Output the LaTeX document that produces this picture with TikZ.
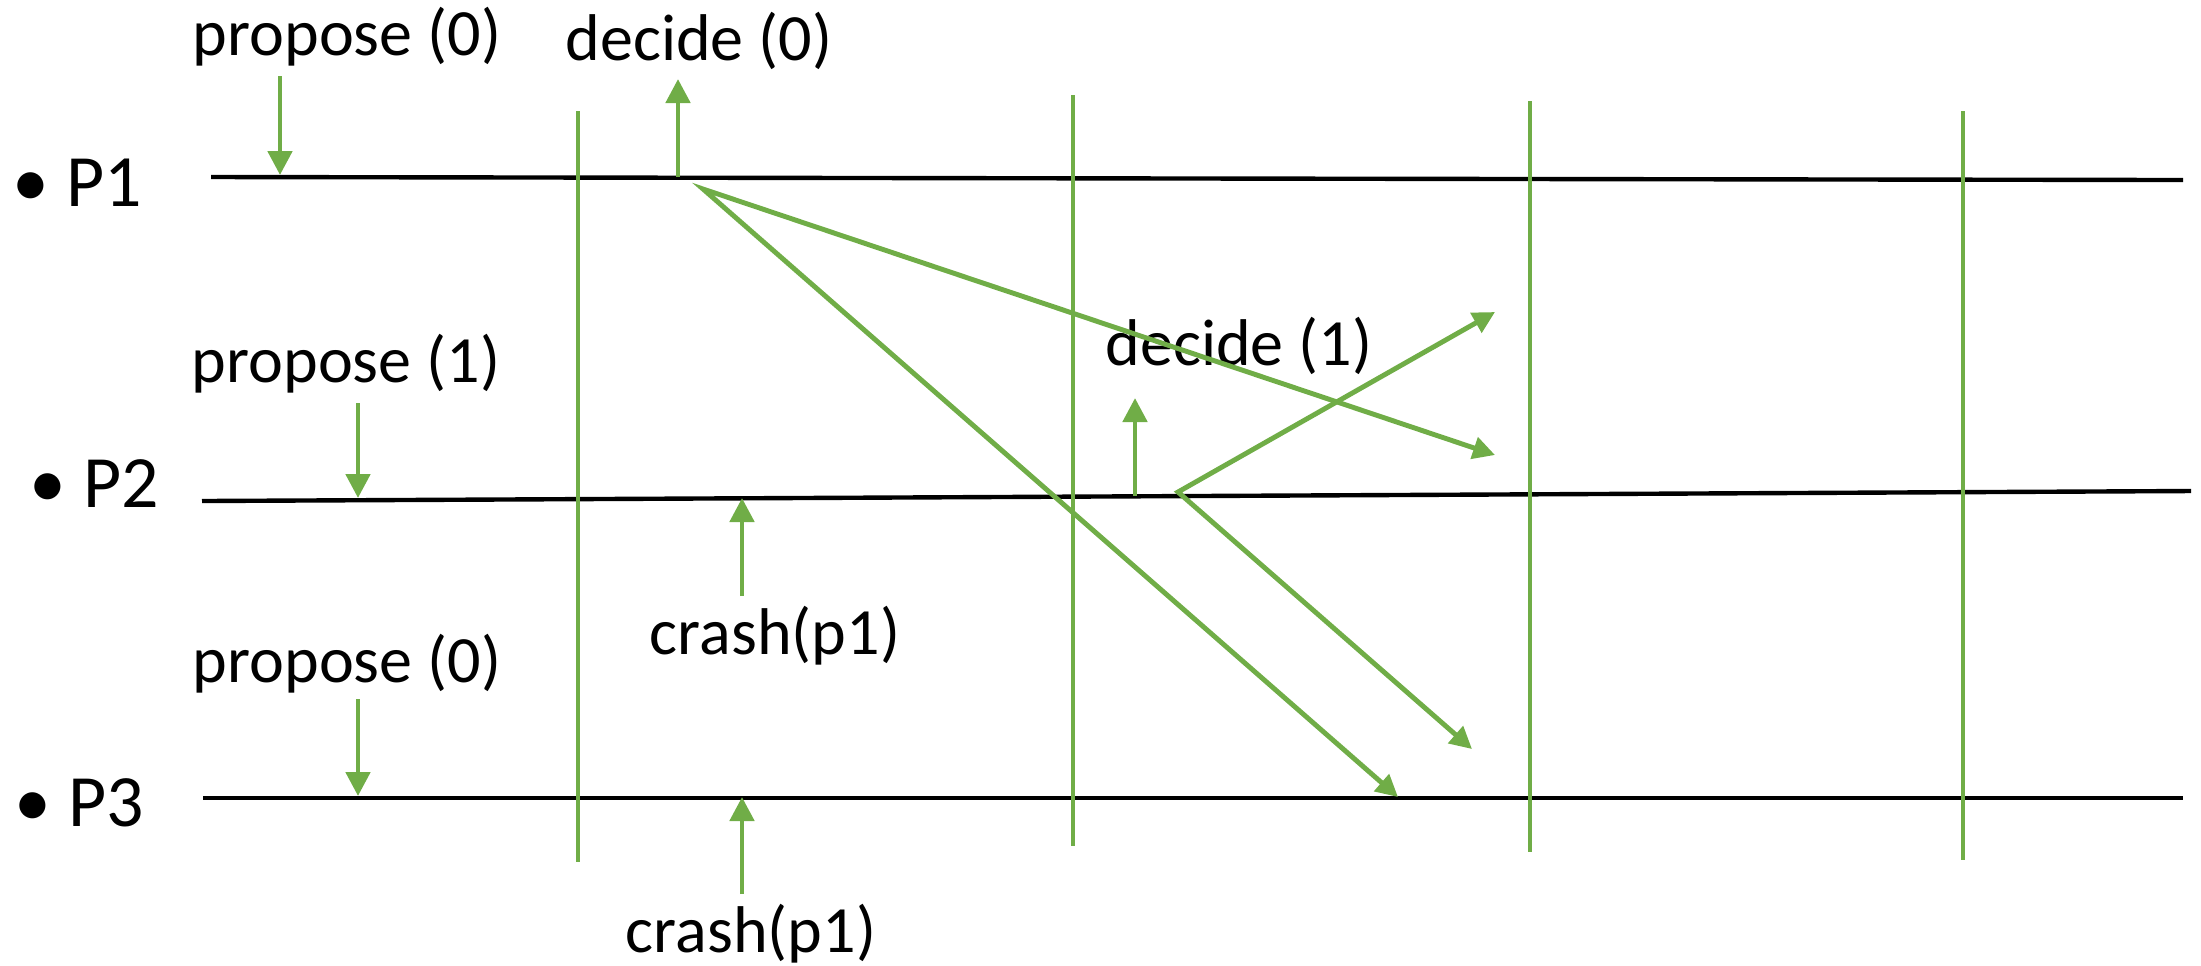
\documentclass[tikz,border=0pt]{standalone}
\usepackage{fontspec}
\setmainfont{Carlito}
\usetikzlibrary{arrows.meta}
\definecolor{cGreen}{RGB}{112,173,71}
\tikzset{
  procline/.style={line width=1.25pt,black},
  roundline/.style={line width=1pt,color=cGreen},
  evarr/.style={-{Triangle[length=2.4mm,width=2.4mm]},line width=1.4pt,color=cGreen},
  msgarr/.style={{Triangle[length=2.2mm,width=2.2mm]}-{Triangle[length=2.2mm,width=2.2mm]},
                 line width=1.4pt,color=cGreen,line join=miter},
  lbl/.style={inner sep=0pt,anchor=base,font=\fontsize{18.8}{22}\selectfont},
  plbl/.style={inner sep=0pt,anchor=base west,font=\fontsize{21}{25}\selectfont}
}
\begin{document}
\begin{tikzpicture}[x=0.1mm,y=-0.1mm]
  \useasboundingbox (0,0) rectangle (2201,965);

  % processes
  \node[plbl] (n1) at (12,206) {• P1};
  \node[plbl] (n2) at (29,507) {• P2};
  \node[plbl] (n3) at (14,826) {• P3};
  \coordinate (p1a) at (211,177); \coordinate (p1b) at (2183,180);
  \coordinate (p2a) at (202,501); \coordinate (p2b) at (2191,491);
  \coordinate (p3a) at (203,798); \coordinate (p3b) at (2183,798);
  \foreach \p in {p1,p2,p3}
    \draw[procline] (\p a) -- (\p b);

  % rounds
  \foreach \r/\x/\top/\bot in {r1/578/111/862,r2/1073/95/846,r3/1530/101/852,r4/1963/111/860}{
    \coordinate (\r t) at (\x,\top);
    \coordinate (\r b) at (\x,\bot);
    \draw[roundline] (\r t) -- (\r b);
  }

  % labels
  \node[lbl] (prop1) at (347,55) {propose (0)};
  \node[lbl] (dec1) at (699,60) {decide (0)};
  \node[lbl] (prop2) at (346,382) {propose (1)};
  \node[lbl] (prop3) at (347,682) {propose (0)};
  \node[lbl] (crash2) at (775,654) {crash(p1)};
  \node[lbl] (crash3) at (751,952) {crash(p1)};
  \node[lbl] (dec2) at (1239,365) {decide (1)};

  % events
  \foreach \e/\x/\from/\to in {ep1/280/76/175,ed1/678/177/79,ep2/358/403/498,
      ep3/358/699/796,ec2/742/596/498,ec3/742/894/797,ed2/1135/496/398}{
    \coordinate (\e s) at (\x,\from);
    \coordinate (\e e) at (\x,\to);
    \draw[evarr] (\e s) -- (\e e);
  }

  % messages
  \coordinate (s1) at (703,189);
  \coordinate (m1) at (1495,455);
  \coordinate (m2) at (1398,797);
  \coordinate (s2) at (1178,492);
  \coordinate (m3) at (1495,312);
  \coordinate (m4) at (1472,749);
  \draw[msgarr] (m1) -- (s1) -- (m2);
  \draw[msgarr] (m3) -- (s2) -- (m4);
\end{tikzpicture}
\end{document}
